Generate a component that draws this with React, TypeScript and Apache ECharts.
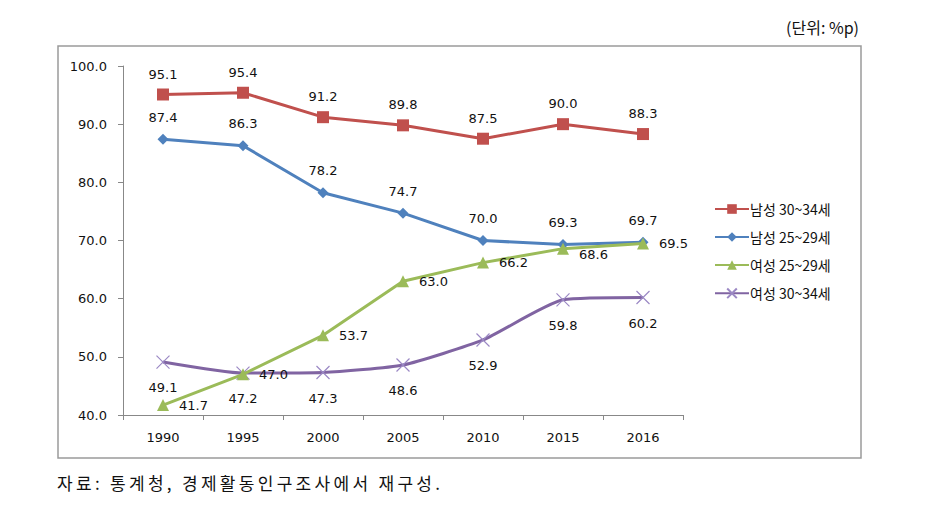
import React, { useEffect, useRef } from "react";
import * as echarts from "echarts";

const years = ["1990", "1995", "2000", "2005", "2010", "2015", "2016"];
const male3034 = [95.1, 95.4, 91.2, 89.8, 87.5, 90.0, 88.3];
const male2529 = [87.4, 86.3, 78.2, 74.7, 70.0, 69.3, 69.7];
const female2529 = [41.7, 47.0, 53.7, 63.0, 66.2, 68.6, 69.5];
const female3034 = [49.1, 47.2, 47.3, 48.6, 52.9, 59.8, 60.2];
const seriesNames = ["남성 30~34세", "남성 25~29세", "여성 25~29세", "여성 30~34세"];
const unitText = "(단위: %p)";
const sourceText = "자료: 통계청, 경제활동인구조사에서 재구성.";

const NUM_FONT = "DejaVu Sans, Verdana, sans-serif";
const KR_FONT = "Noto Sans CJK KR, sans-serif";

export default function App() {
  const ref = useRef<HTMLDivElement>(null);
  useEffect(() => {
    if (!ref.current) return;
    const chart = echarts.init(ref.current, undefined, { renderer: "svg" });
    const labelBase = {
      show: true,
      fontFamily: NUM_FONT,
      fontSize: 13,
      color: "#111",
      formatter: (p: any) => Number(p.value).toFixed(1),
    };
    chart.setOption({
      animation: false,
      backgroundColor: "#fff",
      grid: { left: 123, right: 251, top: 66, bottom: 91 },
      graphic: [
        {
          type: "rect",
          shape: { x: 58, y: 46, width: 803, height: 412 },
          style: { fill: "none", stroke: "#9a9a9a", lineWidth: 1.5 },
          z: -1,
        },
        {
          type: "text",
          right: 75,
          top: 19,
          style: { text: unitText, font: `16px ${KR_FONT}`, fill: "#111" },
        },
      ],
      legend: {
        orient: "vertical",
        left: 709,
        top: 197,
        itemWidth: 34,
        itemHeight: 12,
        itemGap: 14,
        textStyle: { fontFamily: KR_FONT, fontSize: 14, color: "#111", padding: [0, 0, 0, -4] },
        data: seriesNames,
      },
      xAxis: {
        type: "category",
        data: years,
        boundaryGap: true,
        axisLine: { lineStyle: { color: "#888", width: 1 } },
        axisTick: { show: true, length: 5, lineStyle: { color: "#888" } },
        axisLabel: { fontFamily: NUM_FONT, fontSize: 13, color: "#111", margin: 16 },
      },
      yAxis: {
        type: "value",
        min: 40,
        max: 100,
        interval: 10,
        splitLine: { show: false },
        axisLine: { show: true, lineStyle: { color: "#888", width: 1 } },
        axisTick: { show: true, length: 5, lineStyle: { color: "#888" } },
        axisLabel: {
          fontFamily: NUM_FONT,
          fontSize: 13,
          color: "#111",
          margin: 16,
          formatter: (v: number) => v.toFixed(1),
        },
      },
      series: [
        {
          name: seriesNames[0],
          type: "line",
          data: male3034,
          symbol: "rect",
          symbolSize: 12,
          color: "#c0504d",
          lineStyle: { width: 3, color: "#c0504d" },
          label: { ...labelBase, position: "top", distance: 8 },
          z: 4,
        },
        {
          name: seriesNames[1],
          type: "line",
          data: male2529,
          symbol: "diamond",
          symbolSize: 11,
          color: "#4f81bd",
          lineStyle: { width: 3, color: "#4f81bd" },
          label: { ...labelBase, position: "top", distance: 10 },
          z: 3,
        },
        {
          name: seriesNames[2],
          type: "line",
          data: female2529.map((v, i) =>
            i === 5 ? { value: v, label: { offset: [0, 6] } } : v
          ),
          symbol: "triangle",
          symbolSize: 12,
          color: "#9bbb59",
          lineStyle: { width: 3, color: "#9bbb59" },
          label: { ...labelBase, position: "right", distance: 10 },
          z: 5,
        },
        {
          name: seriesNames[3],
          type: "line",
          data: female3034,
          smooth: 0.18,
          symbol: "path://M0,0 L10,10 M10,0 L0,10",
          symbolSize: 13,
          color: "#8064a2",
          itemStyle: { color: "none", borderColor: "#9b88c4", borderWidth: 1.2 },
          lineStyle: { width: 3, color: "#8064a2" },
          label: { ...labelBase, position: "bottom", distance: 10 },
          z: 2,
        },
      ],
    });
    return () => chart.dispose();
  }, []);
  return (
    <div style={{ position: "fixed", left: 0, top: 0, width: 934, height: 506 }}>
      <div ref={ref} style={{ position: "absolute", left: 0, top: 0, width: 934, height: 506 }} />
      <div
        style={{
          position: "absolute",
          left: 57,
          top: 471,
          fontFamily: KR_FONT,
          fontSize: 17,
          letterSpacing: "3.3px",
          color: "#111",
          whiteSpace: "nowrap",
          lineHeight: "24px",
        }}
      >
        {sourceText}
      </div>
    </div>
  );
}
